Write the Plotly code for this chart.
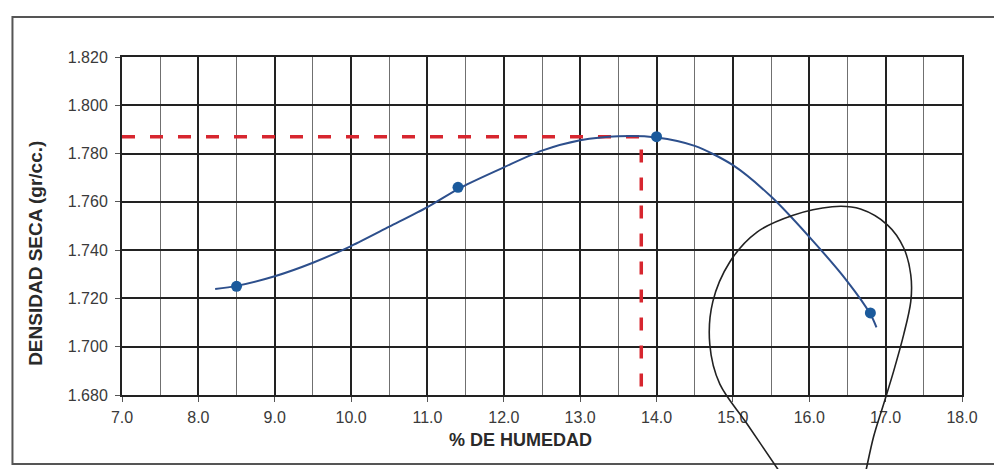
import plotly.graph_objects as go

# ---- data ----
humedad = [8.5, 11.4, 14.0, 16.8]            # % de humedad (points)
densidad = [1.725, 1.766, 1.787, 1.714]       # densidad seca (gr/cc.)

curve_x = [8.22, 8.5, 9.0, 9.5, 10.0, 10.5, 11.0, 11.44, 12.0, 12.5, 13.0, 13.5,
           14.0, 14.5, 15.0, 15.5, 16.0, 16.5, 16.8, 16.88]
curve_y = [1.7239, 1.7252, 1.7292, 1.7348, 1.7417, 1.7497, 1.7578, 1.7660, 1.7743,
           1.7812, 1.7855, 1.7872, 1.7867, 1.7832, 1.7752, 1.7622, 1.7455, 1.7270,
           1.7135, 1.7080]

omc = 13.8      # optimum moisture content
mdd = 1.787     # maximum dry density

# hand-drawn loop (in data units)
loop_x = [15.79, 15.618, 15.184, 14.829, 14.697, 14.737, 14.961, 15.316, 15.789,
          16.300, 16.671, 17.026, 17.237, 17.329, 17.329, 17.237, 17.105, 16.974,
          16.842, 16.737, 16.68]
loop_y = [1.6400, 1.6479, 1.6681, 1.6845, 1.7010, 1.7187, 1.7352, 1.7475, 1.7545,
          1.7580, 1.7570, 1.7504, 1.7409, 1.7298, 1.7187, 1.7051, 1.6899, 1.6763,
          1.6627, 1.6479, 1.6400]

x_range = [7.0, 18.0]
y_range = [1.680, 1.820]

FONT = "Liberation Sans, Arial, sans-serif"

fig = go.Figure()

fig.add_trace(go.Scatter(
    x=[x_range[0], omc, omc], y=[mdd, mdd, y_range[0]],
    mode="lines", line=dict(color="#d7262f", width=3.5, dash="13px,15px"),
    hoverinfo="skip", showlegend=False))

fig.add_trace(go.Scatter(
    x=curve_x, y=curve_y, mode="lines",
    line=dict(color="#2d4f8c", width=2, shape="spline", smoothing=0.8),
    hoverinfo="skip", showlegend=False))

fig.add_trace(go.Scatter(
    x=humedad, y=densidad, mode="markers",
    marker=dict(color="#1b5a9c", size=11),
    showlegend=False))

# convert loop to paper coords and build smooth path (Catmull-Rom -> Bezier)
def to_paper(x, y):
    return ((x - x_range[0]) / (x_range[1] - x_range[0]),
            (y - y_range[0]) / (y_range[1] - y_range[0]))

pts = [to_paper(a, b) for a, b in zip(loop_x, loop_y)]
path = "M {:.5f},{:.5f}".format(*pts[0])
for i in range(len(pts) - 1):
    p0 = pts[i - 1] if i > 0 else pts[i]
    p1 = pts[i]
    p2 = pts[i + 1]
    p3 = pts[i + 2] if i + 2 < len(pts) else pts[i + 1]
    c1 = (p1[0] + (p2[0] - p0[0]) / 6, p1[1] + (p2[1] - p0[1]) / 6)
    c2 = (p2[0] - (p3[0] - p1[0]) / 6, p2[1] - (p3[1] - p1[1]) / 6)
    path += " C {:.5f},{:.5f} {:.5f},{:.5f} {:.5f},{:.5f}".format(*c1, *c2, *p2)

shapes = [
    dict(type="path", path=path, xref="paper", yref="paper",
         line=dict(color="#222222", width=1.6), layer="above"),
    # outer frame of the scanned sheet
    dict(type="rect", xref="paper", yref="paper", x0=-0.1304, x1=1.2,
         y0=-0.204, y1=1.118, line=dict(color="#555555", width=2), layer="below"),
]

axis_common = dict(
    showgrid=True, gridcolor="#222222", gridwidth=1.5,
    showline=True, linecolor="#222222", linewidth=2, mirror=True,
    ticks="outside", ticklen=5, tickcolor="#555555", tickwidth=1,
    tickfont=dict(family=FONT, size=16, color="#3a3a3a"),
    zeroline=False, fixedrange=True,
)

fig.update_xaxes(range=x_range, dtick=1.0, tick0=7.0, tickformat=".1f",
                 minor=dict(dtick=0.5, showgrid=True, gridcolor="#707070", gridwidth=1),
                 ticklabelstandoff=2, **axis_common)
fig.update_yaxes(range=y_range, dtick=0.02, tick0=1.68, tickformat=".3f",
                 ticklabelstandoff=4, **axis_common)

fig.update_layout(
    width=994, height=469,
    margin=dict(l=122, r=32, t=57, b=74),
    paper_bgcolor="#ffffff", plot_bgcolor="#ffffff",
    shapes=shapes,
    annotations=[
        dict(text="<b>% DE HUMEDAD</b>", xref="paper", yref="paper",
             x=0.474, y=-0.133, showarrow=False, xanchor="center", yanchor="middle",
             font=dict(family=FONT, size=18, color="#2a2a2a")),
        dict(text="<b>DENSIDAD SECA (gr/cc.)</b>", xref="paper", yref="paper",
             x=-0.103, y=0.419, showarrow=False, textangle=-90,
             xanchor="center", yanchor="middle",
             font=dict(family=FONT, size=19, color="#2a2a2a")),
    ],
)

fig.write_html("out.html")
